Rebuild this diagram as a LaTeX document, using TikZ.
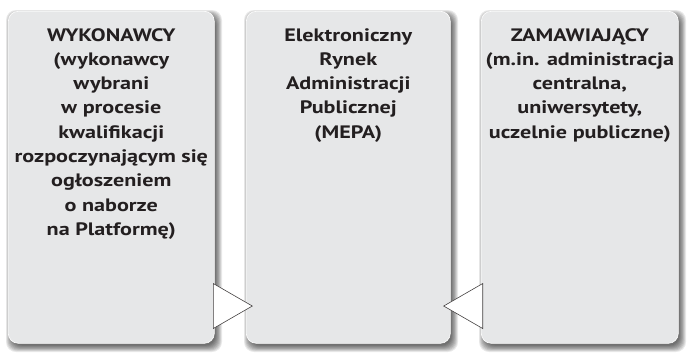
\documentclass[tikz,border=0pt]{standalone}
\usepackage{fontspec}
\setmainfont{PT Sans}
\usetikzlibrary{shapes.geometric}
\definecolor{boxfill}{HTML}{E6E7E8}
\definecolor{txt}{HTML}{231F20}
\tikzset{
  panel/.style={draw=white, line width=0.6pt, fill=boxfill, rounded corners=10pt, minimum height=332pt, anchor=north west, inner sep=0pt},
  lbl/.style={anchor=north, align=center, text=txt, font=\fontsize{18}{24.3}\selectfont\bfseries, inner sep=0pt, xscale=1.23, transform shape},
  tri/.style={isosceles triangle, isosceles triangle stretches=true, draw=txt!85, line width=0.6pt, fill=white, minimum width=45pt, minimum height=39pt, inner sep=0pt}
}
\newcommand{\softshadow}[4]{%
  \foreach \s in {5,4.2,3.4,2.6,1.8,1,0.2,-0.6,-1.4}{%
    \fill[black, opacity=0.085, rounded corners=10pt] (#1+3-\s,#2+4-\s) rectangle (#3+3+\s,#4+4+\s);
  }%
}
\begin{document}
\begin{tikzpicture}[x=1pt,y=-1pt]
\useasboundingbox (0,0) rectangle (688,354);
% soft shadows
\softshadow{8}{11}{214}{343}
\softshadow{246}{11}{450}{343}
\softshadow{481}{11}{678}{343}
% panels
\node[panel, minimum width=206pt] (b1) at (8,11) {};
\node[panel, minimum width=204pt] (b2) at (246,11) {};
\node[panel, minimum width=197pt] (b3) at (481,11) {};
% texts
\node[lbl] (t1) at ([yshift=-17pt]b1.north) {WYKONAWCY\\(wykonawcy\\wybrani\\w procesie\\kwalifikacji\\rozpoczynającym się\\ogłoszeniem\\o naborze\\na Platformę)};
\node[lbl] (t2) at ([yshift=-17pt]b2.north) {Elektroniczny\\Rynek\\Administracji\\Publicznej\\(MEPA)};
\node[lbl] (t3) at ([yshift=-17pt]b3.north) {ZAMAWIAJĄCY\\(m.in. administracja\\centralna,\\uniwersytety,\\uczelnie publiczne)};
% triangles
\node[tri, anchor=left corner, shape border rotate=0] (a1) at (213,283) {};
\node[tri, anchor=right corner, shape border rotate=180] (a2) at (483,283) {};
\end{tikzpicture}
\end{document}
